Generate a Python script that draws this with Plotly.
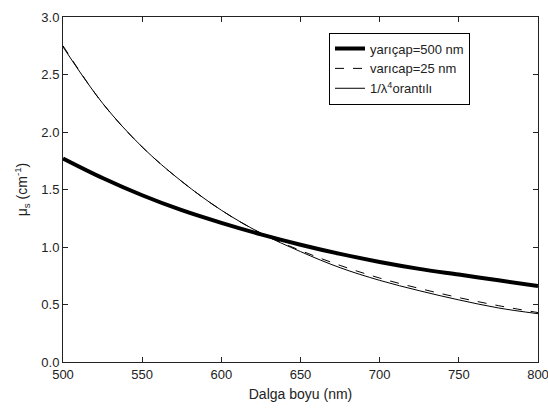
import plotly.graph_objects as go

wavelength = [500, 525, 550, 575, 600, 625, 650, 675, 700, 725, 750, 775, 800]
r500 = [1.77, 1.60, 1.45, 1.32, 1.21, 1.11, 1.02, 0.94, 0.87, 0.81, 0.76, 0.71, 0.66]
r25 = [2.75, 2.25, 1.87, 1.57, 1.32, 1.12, 0.97, 0.84, 0.73, 0.64, 0.56, 0.49, 0.43]
inv4 = [2.74, 2.25, 1.87, 1.57, 1.32, 1.12, 0.96, 0.82, 0.71, 0.62, 0.54, 0.47, 0.42]

x_ticks = [500, 550, 600, 650, 700, 750, 800]
y_ticks = [0.0, 0.5, 1.0, 1.5, 2.0, 2.5, 3.0]

fig = go.Figure()
fig.add_trace(go.Scatter(x=wavelength, y=r500, mode="lines", name="yarıçap=500 nm",
                         line=dict(color="black", width=4, shape="spline")))
fig.add_trace(go.Scatter(x=wavelength, y=r25, mode="lines", name="varıcap=25 nm",
                         line=dict(color="black", width=1, dash="dash", shape="spline")))
fig.add_trace(go.Scatter(x=wavelength, y=inv4, mode="lines", name="1/λ<sup>4</sup>orantılı",
                         line=dict(color="black", width=1, shape="spline")))

axis_common = dict(showgrid=False, zeroline=False, showline=True, linecolor="#222",
                   linewidth=1, mirror="allticks", ticks="inside", ticklen=5,
                   tickcolor="#222", tickfont=dict(size=13, color="#222"),
                   ticklabeloverflow="allow", automargin=False)
fig.update_xaxes(range=[500, 800], tickvals=x_ticks,
                 title=dict(text="Dalga boyu (nm)", font=dict(size=14, color="#222"), standoff=8),
                 **axis_common)
fig.update_yaxes(range=[0, 3], tickvals=y_ticks, tickformat=".1f",
                 title=dict(text="μ<sub>s</sub> (cm<sup>-1</sup>)", font=dict(size=14, color="#222"), standoff=10),
                 **axis_common)

fig.update_layout(
    width=548, height=410,
    margin=dict(l=63, r=10, t=17, b=48),
    plot_bgcolor="white", paper_bgcolor="white",
    font=dict(family="Liberation Sans, Arial, sans-serif", color="#222"),
    legend=dict(x=0.56, y=0.955, xanchor="left", yanchor="top",
                bordercolor="black", borderwidth=1, bgcolor="white",
                font=dict(size=13), tracegroupgap=0, itemwidth=30),
    showlegend=True,
)

fig.write_html("out.html", config={"displayModeBar": False},
               post_script="document.body.style.margin='0';")
